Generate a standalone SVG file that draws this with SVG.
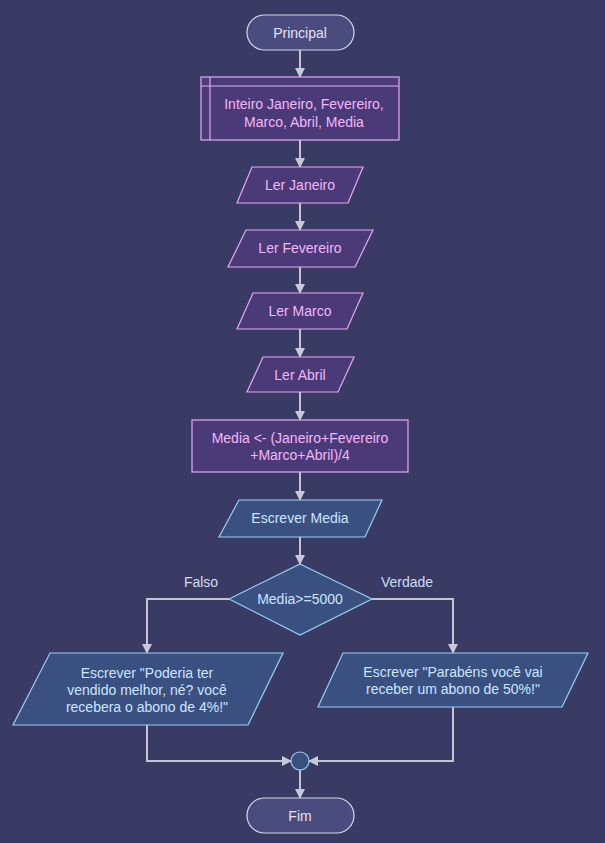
<svg xmlns="http://www.w3.org/2000/svg" width="605" height="843" viewBox="0 0 605 843">
<style>
text{font-family:"Liberation Sans",Arial,sans-serif;font-size:14px;text-anchor:middle}
.term{fill:#4a4b7e;stroke:#d8d8e8;stroke-width:1.2}
.term-t{fill:#e4e4f4}
.pur{fill:#4b3a78;stroke:#e8a8f4;stroke-width:1.2}
.pur-t{fill:#f2b8f8}
.blu{fill:#3a5080;stroke:#98d0f4;stroke-width:1.2}
.blu-t{fill:#cce6ff}
.lbl{fill:#d0dcf4}
.conn{fill:none;stroke:#c4c4d4;stroke-width:2}
</style>
<defs>
<marker id="ah" markerWidth="10" markerHeight="10" refX="9" refY="5" orient="auto" markerUnits="userSpaceOnUse">
<path d="M0,0 L10,5 L0,10 Z" fill="#c8c8d8"/>
</marker>
</defs>
<rect width="605" height="843" fill="#393b65"/>
<g id="connectors">
<path class="conn" d="M300,50 V77" marker-end="url(#ah)"/>
<path class="conn" d="M300,140 V167" marker-end="url(#ah)"/>
<path class="conn" d="M300,203 V230" marker-end="url(#ah)"/>
<path class="conn" d="M300,267 V293" marker-end="url(#ah)"/>
<path class="conn" d="M300,329 V357" marker-end="url(#ah)"/>
<path class="conn" d="M300,392 V420" marker-end="url(#ah)"/>
<path class="conn" d="M300,472 V500" marker-end="url(#ah)"/>
<path class="conn" d="M300,537 V564" marker-end="url(#ah)"/>
<path class="conn" d="M229,599 H147 V653" marker-end="url(#ah)"/>
<path class="conn" d="M372,599 H453 V653" marker-end="url(#ah)"/>
<path class="conn" d="M147,725 V761 H291" marker-end="url(#ah)"/>
<path class="conn" d="M453,707 V761 H309" marker-end="url(#ah)"/>
<path class="conn" d="M300,770 V798" marker-end="url(#ah)"/>
<text class="lbl" x="201" y="587">Falso</text>
<text class="lbl" x="407" y="587">Verdade</text>
</g>
<g id="principal">
<rect class="term" x="247" y="15" width="107" height="35" rx="17.5"/>
<text class="term-t" x="300" y="38">Principal</text>
</g>
<g id="declaracao">
<rect class="pur" x="201" y="77" width="198" height="63"/>
<path d="M201,86 H399 M210,77 V140" fill="none" stroke="#e8a8f4" stroke-width="1.2"/>
<text class="pur-t" x="304" y="109">Inteiro Janeiro, Fevereiro,</text>
<text class="pur-t" x="304" y="127">Marco, Abril, Media</text>
</g>
<g id="ler-janeiro">
<polygon class="pur" points="252,167 363,167 348,203 237,203"/>
<text class="pur-t" x="300" y="190">Ler Janeiro</text>
</g>
<g id="ler-fevereiro">
<polygon class="pur" points="246,230 373,230 355,267 228,267"/>
<text class="pur-t" x="300" y="253">Ler Fevereiro</text>
</g>
<g id="ler-marco">
<polygon class="pur" points="253,293 363,293 347,329 237,329"/>
<text class="pur-t" x="300" y="316">Ler Marco</text>
</g>
<g id="ler-abril">
<polygon class="pur" points="263,357 354,357 338,392 247,392"/>
<text class="pur-t" x="300" y="380">Ler Abril</text>
</g>
<g id="media-calc">
<rect class="pur" x="192" y="420" width="216" height="52"/>
<text class="pur-t" x="300" y="443">Media &lt;- (Janeiro+Fevereiro</text>
<text class="pur-t" x="300" y="460">+Marco+Abril)/4</text>
</g>
<g id="escrever-media">
<polygon class="blu" points="239,500 382,500 365,537 219,537"/>
<text class="blu-t" x="300" y="523">Escrever Media</text>
</g>
<g id="decisao">
<polygon class="blu" points="300,564 372,599 300,635 229,599"/>
<text class="blu-t" x="300" y="604">Media&gt;=5000</text>
</g>
<g id="escrever-falso">
<polygon class="blu" points="50,653 283,653 248,725 13,725"/>
<text class="blu-t" x="147" y="678">Escrever "Poderia ter</text>
<text class="blu-t" x="147" y="695">vendido melhor, né? você</text>
<text class="blu-t" x="147" y="712">recebera o abono de 4%!"</text>
</g>
<g id="escrever-verdade">
<polygon class="blu" points="343,653 588,653 562,707 318,707"/>
<text class="blu-t" x="453" y="677">Escrever "Parabéns você vai</text>
<text class="blu-t" x="453" y="694">receber um abono de 50%!"</text>
</g>
<g id="juncao">
<circle class="blu" cx="300" cy="761" r="9"/>
</g>
<g id="fim">
<rect class="term" x="247" y="798" width="107" height="35" rx="17.5"/>
<text class="term-t" x="300" y="821">Fim</text>
</g>
</svg>
